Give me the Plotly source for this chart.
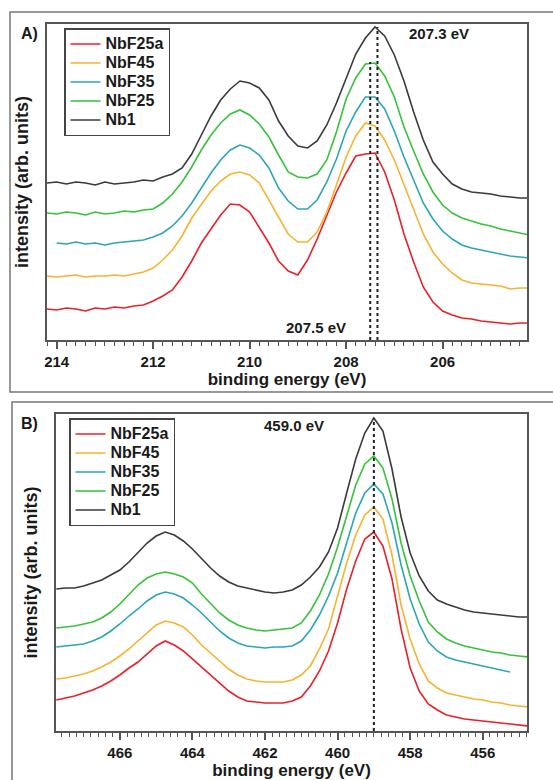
import plotly.graph_objects as go

# ---------------- data ----------------
series_names = ["NbF25a", "NbF45", "NbF35", "NbF25", "Nb1"]
series_colors = ["#e8202a", "#f6b331", "#2ba6b6", "#36c23a", "#3a3a3a"]

# Panel A: Nb 3d region
nb3d_energy = [214.2, 214.0, 213.8, 213.6, 213.4, 213.2, 213.0, 212.8, 212.6, 212.4,
               212.2, 212.0, 211.8, 211.6, 211.4, 211.2, 211.0, 210.8, 210.6, 210.4,
               210.2, 210.0, 209.8, 209.6, 209.4, 209.2, 209.0, 208.8, 208.6, 208.4,
               208.2, 208.0, 207.8, 207.6, 207.4, 207.2, 207.0, 206.8, 206.6, 206.4,
               206.2, 206.0, 205.8, 205.6, 205.4, 205.2, 205.0, 204.8, 204.6, 204.4,
               204.2]
nb3d_nbf25a = [31, 30, 32, 31, 29, 32, 31, 33, 32, 34,
               35, 39, 44, 50, 63, 79, 97, 111, 125, 136,
               135, 128, 113, 97, 79, 69, 65, 80, 101, 124,
               148, 167, 184, 186, 187, 168, 140, 106, 78, 53,
               38, 29, 25, 22, 21, 19, 18, 17, 16, 17,
               17]
nb3d_nbf45 = [64, 63, 64, 65, 63, 64, 64, 65, 64, 66,
              68, 72, 80, 90, 104, 122, 136, 149, 159, 166,
              168, 165, 157, 140, 124, 106, 98, 98, 108, 128,
              155, 183, 204, 217, 214, 200, 180, 156, 130, 106,
              88, 76, 67, 60, 57, 56, 55, 54, 51, 52,
              52]
nb3d_nbf35 = [97, 96, 98, 96, 97, 95, 97, 98, 99,
              100, 103, 107, 114, 124, 137, 152, 167, 180, 190,
              195, 192, 185, 172, 152, 139, 131, 131, 140, 158,
              181, 209, 228, 243, 243, 231, 209, 183, 160, 137,
              121, 109, 101, 95, 92, 90, 88, 86, 84, 83,
              82]
nb3d_nbf25 = [127, 126, 128, 127, 125, 128, 126, 127, 129, 128,
              130, 131, 137, 146, 158, 173, 190, 205, 217, 226,
              230, 225, 216, 203, 185, 168, 163, 162, 166, 180,
              208, 241, 262, 276, 277, 264, 243, 213, 189, 166,
              148, 135, 127, 122, 119, 116, 114, 111, 109, 107,
              105]
nb3d_nb1 = [157, 158, 156, 158, 157, 155, 158, 156, 157, 158,
            160, 159, 163, 166, 172, 186, 205, 224, 240, 251,
            259, 257, 252, 240, 219, 204, 194, 192, 199, 215,
            237, 262, 286, 302, 313, 304, 285, 259, 228, 200,
            178, 166, 156, 151, 148, 147, 146, 144, 143, 142,
            142]
nb3d_nbf35_start = 1  # NbF35 trace begins at 214.0 eV

# Panel B: O 1s region
o1s_energy = [467.75, 467.50, 467.25, 467.00, 466.75, 466.50, 466.25, 466.00, 465.75, 465.50,
              465.25, 465.00, 464.75, 464.50, 464.25, 464.00, 463.75, 463.50, 463.25, 463.00,
              462.75, 462.50, 462.25, 462.00, 461.75, 461.50, 461.25, 461.00, 460.75, 460.50,
              460.25, 460.00, 459.75, 459.50, 459.25, 459.00, 458.75, 458.50, 458.25, 458.00,
              457.75, 457.50, 457.25, 457.00, 456.75, 456.50, 456.25, 456.00, 455.75, 455.50,
              455.25, 455.00, 454.75]
o1s_nbf25a = [31, 33, 35, 38, 41, 45, 50, 56, 63, 69,
              77, 85, 90, 86, 80, 72, 63, 55, 47, 40,
              34, 30, 29, 28, 28, 28, 30, 34, 45, 60,
              80, 108, 142, 170, 192, 199, 185, 152, 102, 63,
              40, 27, 21, 16, 14, 12, 11, 10, 9, 8,
              7, 6, 5]
o1s_nbf45 = [52, 53, 55, 57, 60, 64, 69, 75, 82, 90,
             99, 106, 110, 108, 104, 96, 86, 78, 69, 62,
             56, 52, 50, 49, 49, 49, 51, 56, 65, 82,
             102, 134, 168, 196, 216, 224, 212, 176, 126, 92,
             67, 50, 43, 38, 36, 34, 32, 31, 29, 28,
             26, 25, 24]
o1s_nbf35 = [84, 85, 86, 87, 90, 94, 100, 107, 115, 122,
             130, 136, 139, 137, 133, 126, 118, 109, 100, 93,
             88, 85, 84, 83, 84, 84, 85, 90, 101, 116,
             135, 158, 188, 218, 238, 247, 237, 208, 166, 132,
             107, 89, 80, 74, 71, 69, 67, 65, 63, 61,
             59]
o1s_nbf25 = [103, 104, 105, 107, 109, 113, 119, 127, 136, 146,
             153, 157, 159, 157, 154, 148, 137, 127, 118, 111,
             106, 103, 101, 100, 101, 102, 103, 108, 120, 136,
             157, 184, 216, 246, 267, 275, 263, 232, 188, 155,
             130, 109, 99, 92, 88, 85, 83, 81, 79, 78,
             76, 75, 74]
o1s_nb1 = [142, 143, 143, 145, 148, 151, 156, 161, 169, 178,
           188, 195, 199, 196, 190, 182, 172, 163, 155, 149,
           145, 143, 141, 139, 138, 139, 141, 146, 154, 164,
           179, 203, 238, 272, 298, 313, 300, 262, 214, 178,
           155, 140, 131, 127, 124, 121, 119, 118, 117, 116,
           115, 114, 114]
o1s_nbf35_count = 51  # NbF35 trace ends at 455.25 eV

top_ticks = [214, 212, 210, 208, 206]
bottom_ticks = [466, 464, 462, 460, 458, 456]
top_marker_lines = [(207.5, 278, "207.5 eV"), (207.35, 313, "207.3 eV")]
bottom_marker_line = (459.0, 313, "459.0 eV")

# ---------------- figure ----------------
W, H = 553, 780
FONT = "Liberation Sans, Arial, Helvetica, sans-serif"
AX = "#555555"
INK = "#1a1a1a"

top_sets = [nb3d_nbf25a, nb3d_nbf45, nb3d_nbf35, nb3d_nbf25, nb3d_nb1]
bot_sets = [o1s_nbf25a, o1s_nbf45, o1s_nbf35, o1s_nbf25, o1s_nb1]


def legend_label(name):
    return '<span style="font-size:16px">' + name + '</span>'


fig = go.Figure()
for name, col, ys in zip(series_names, series_colors, top_sets):
    xs = nb3d_energy[nb3d_nbf35_start:] if name == "NbF35" else nb3d_energy
    assert len(xs) == len(ys), (name, len(xs), len(ys))
    fig.add_trace(go.Scatter(x=xs, y=ys, mode="lines", name=legend_label(name),
                             line=dict(color=col, width=1.6),
                             xaxis="x", yaxis="y", legend="legend"))
for name, col, ys in zip(series_names, series_colors, bot_sets):
    xs = o1s_energy[:o1s_nbf35_count] if name == "NbF35" else o1s_energy
    assert len(xs) == len(ys), (name, len(xs), len(ys))
    fig.add_trace(go.Scatter(x=xs, y=ys, mode="lines", name=legend_label(name),
                             line=dict(color=col, width=1.6),
                             xaxis="x2", yaxis="y2", legend="legend2"))


def px_x(p):
    return p / W


def px_y(p):
    return 1 - p / H


tick_font = dict(family=FONT, size=15, color=INK, weight="bold")
title_font = dict(family=FONT, size=17, color=INK, weight="bold")


def xaxis_cfg(rng, ticks, dom):
    return dict(domain=dom, range=rng, tickmode="array", tickvals=ticks,
                ticks="outside", ticklen=7, tickwidth=1.5, tickcolor=AX,
                minor=dict(dtick=0.2, tick0=0, ticks="outside", ticklen=4,
                           tickwidth=1.2, tickcolor=AX),
                showline=True, linecolor=AX, linewidth=1.5, mirror=True,
                showgrid=False, zeroline=False, tickfont=tick_font,
                ticklabelstandoff=0, automargin=False,
                title=dict(text="binding energy (eV)", font=title_font, standoff=4))


def yaxis_cfg(rng, dom):
    return dict(domain=dom, range=rng, showticklabels=False, ticks="",
                showline=True, linecolor=AX, linewidth=1.5, mirror=True,
                showgrid=False, zeroline=False, automargin=False,
                title=dict(text="intensity (arb. units)",
                           font=dict(family=FONT, size=18, color=INK, weight="bold"),
                           standoff=12))


legend_common = dict(xanchor="left", yanchor="top", bgcolor="white",
                     bordercolor="#444444", borderwidth=1.5,
                     font=dict(family=FONT, size=12, color=INK, weight="bold"),
                     tracegroupgap=0, itemwidth=30)

fig.update_layout(
    width=W, height=H,
    margin=dict(l=0, r=0, t=0, b=0),
    paper_bgcolor="white", plot_bgcolor="white",
    xaxis=xaxis_cfg([214.2, 204.25], top_ticks, [px_x(47), px_x(527)]),
    yaxis=yaxis_cfg([0, 316], [px_y(340), px_y(24)]),
    xaxis2=dict(xaxis_cfg([467.76, 454.78], bottom_ticks, [px_x(56), px_x(527)]), anchor="y2"),
    yaxis2=dict(yaxis_cfg([0, 317], [px_y(731), px_y(414)]), anchor="x2"),
    legend=dict(legend_common, x=px_x(64), y=px_y(28)),
    legend2=dict(legend_common, x=px_x(69), y=px_y(418)),
    showlegend=True,
)

shapes = [
    dict(type="rect", xref="paper", yref="paper", x0=px_x(10), x1=1.05,
         y0=px_y(392), y1=px_y(12), line=dict(color="#777777", width=1.5), layer="below"),
    dict(type="rect", xref="paper", yref="paper", x0=px_x(12), x1=1.05,
         y0=-0.05, y1=px_y(402), line=dict(color="#777777", width=1.5), layer="below"),
]
for xv, ytop, _ in top_marker_lines:
    shapes.append(dict(type="line", xref="x", yref="y", x0=xv, x1=xv, y0=0, y1=ytop,
                       line=dict(color="#222222", width=2, dash="dot")))
xv, ytop, _ = bottom_marker_line
shapes.append(dict(type="line", xref="x2", yref="y2", x0=xv, x1=xv, y0=0, y1=ytop,
                   line=dict(color="#222222", width=2, dash="dot")))
fig.update_layout(shapes=shapes)

lab_font = dict(family=FONT, size=15, color=INK, weight="bold")
panel_font = dict(family=FONT, size=16, color=INK, weight="bold")
annotations = [
    dict(text="A)", xref="paper", yref="paper", x=px_x(29), y=px_y(34),
         xanchor="center", yanchor="middle", showarrow=False, font=panel_font),
    dict(text="B)", xref="paper", yref="paper", x=px_x(29), y=px_y(424),
         xanchor="center", yanchor="middle", showarrow=False, font=panel_font),
    dict(text=top_marker_lines[1][2], xref="x", yref="y", x=206.08, y=307,
         xanchor="center", yanchor="middle", showarrow=False, font=lab_font),
    dict(text=top_marker_lines[0][2], xref="x", yref="y", x=208.63, y=13,
         xanchor="center", yanchor="middle", showarrow=False, font=lab_font),
    dict(text=bottom_marker_line[2], xref="x2", yref="y2", x=461.21, y=306,
         xanchor="center", yanchor="middle", showarrow=False, font=lab_font),
]
fig.update_layout(annotations=annotations)

fig.write_html("out.html", config={"displayModeBar": False},
               post_script="document.body.style.margin='0px';")
